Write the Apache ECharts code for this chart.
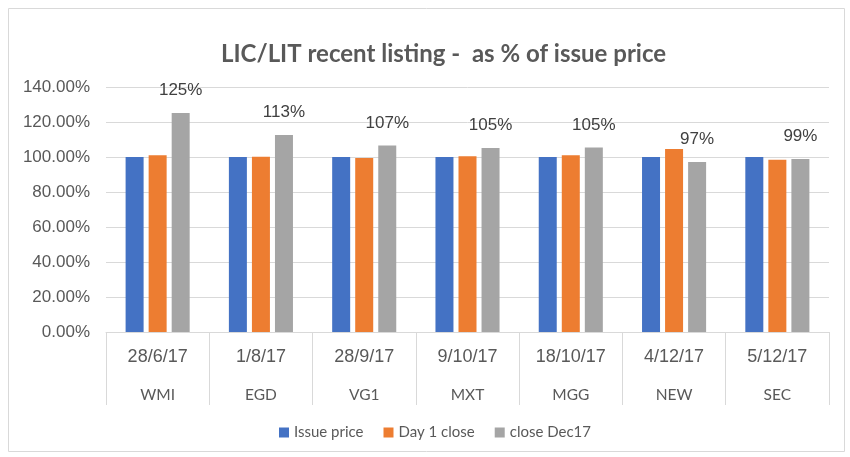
<!DOCTYPE html>
<html>
<head>
    <meta charset="utf-8" />
    <script src="https://cdn.jsdelivr.net/npm/echarts@6/dist/echarts.min.js"></script>
    <style>
        html, body { margin: 0; padding: 0; background: #fff; }
        #chart { width: 850px; height: 457px; }
    </style>
</head>
<body>
<div id="chart"></div>
<script type="text/javascript">
    // listing dates and tickers (two-level category axis)
    var dates = ['28/6/17', '1/8/17', '28/9/17', '9/10/17', '18/10/17', '4/12/17', '5/12/17'];
    var tickers = ['WMI', 'EGD', 'VG1', 'MXT', 'MGG', 'NEW', 'SEC'];
    var yTicks = [0, 20, 40, 60, 80, 100, 120, 140];

    // values as % of issue price
    var issuePrice = [100, 100, 100, 100, 100, 100, 100];
    var day1Close = [101, 100.2, 99.5, 100.5, 101, 104.6, 98.5];
    var closeDec17 = [125.1, 112.6, 106.6, 105.1, 105.4, 97.1, 98.9];
    var dec17Labels = ['125%', '113%', '107%', '105%', '105%', '97%', '99%'];

    var chart = echarts.init(document.getElementById('chart'));

    var option = {
        animation: false,
        title: {
            text: 'LIC/LIT recent listing -  as % of issue price',
            left: 216,
            top: 37,
            textStyle: { fontFamily: 'Lato', fontSize: 24, fontWeight: 'bold', color: '#595959' }
        },
        legend: {
            bottom: 12,
            left: 274,
            itemWidth: 10,
            itemHeight: 10,
            itemGap: 20,
            icon: 'rect',
            textStyle: { fontFamily: 'Lato', fontSize: 15, color: '#595959' },
            data: ['Issue price', 'Day 1 close', 'close Dec17']
        },
        grid: { left: 106, right: 21, top: 87, bottom: 125 },
        xAxis: [
            {
                type: 'category',
                data: dates,
                position: 'bottom',
                axisLine: { lineStyle: { color: '#d9d9d9' } },
                axisTick: { show: true, interval: 0, length: 73, lineStyle: { color: '#d9d9d9' } },
                axisLabel: { interval: 0, margin: 16, fontFamily: 'Liberation Sans', fontSize: 18, color: '#595959' }
            },
            {
                type: 'category',
                data: tickers,
                position: 'bottom',
                axisLine: { show: false },
                axisTick: { show: false },
                axisLabel: { interval: 0, margin: 55, fontFamily: 'Lato', fontSize: 15.5, color: '#595959' }
            }
        ],
        yAxis: {
            type: 'value',
            min: 0,
            max: yTicks[yTicks.length - 1],
            interval: yTicks[1] - yTicks[0],
            axisLine: { show: false },
            axisTick: { show: false },
            splitLine: { lineStyle: { color: '#d9d9d9' } },
            axisLabel: {
                margin: 16,
                fontFamily: 'Liberation Sans',
                fontSize: 17,
                color: '#595959',
                formatter: function (v) { return v.toFixed(2) + '%'; }
            }
        },
        series: [
            {
                name: 'Issue price',
                type: 'bar',
                data: issuePrice,
                barWidth: 18,
                barGap: '28%',
                itemStyle: { color: '#4472C4' }
            },
            {
                name: 'Day 1 close',
                type: 'bar',
                data: day1Close,
                barWidth: 18,
                barGap: '28%',
                itemStyle: { color: '#ED7D31' }
            },
            {
                name: 'close Dec17',
                type: 'bar',
                data: closeDec17,
                barWidth: 18,
                barGap: '28%',
                itemStyle: { color: '#A5A5A5' },
                label: {
                    show: true,
                    position: 'top',
                    distance: 14,
                    fontFamily: 'Liberation Sans',
                    fontSize: 17,
                    color: '#404040',
                    formatter: function (p) { return dec17Labels[p.dataIndex]; }
                }
            }
        ],
        graphic: [
            {
                type: 'rect',
                shape: { x: 8.5, y: 8.5, width: 836, height: 443 },
                style: { fill: 'none', stroke: '#d9d9d9', lineWidth: 1 },
                silent: true
            }
        ]
    };

    chart.setOption(option);
</script>
</body>
</html>
